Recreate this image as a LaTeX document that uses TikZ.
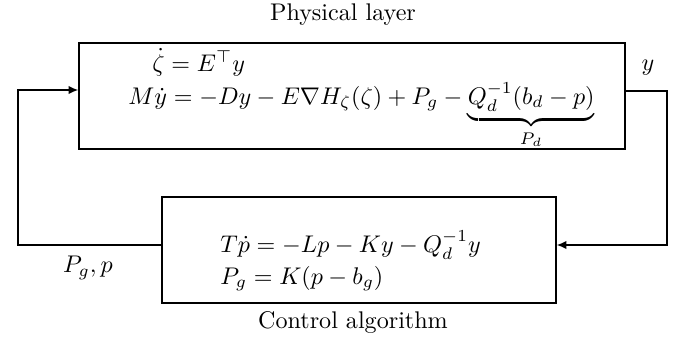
\documentclass[tikz,border=0pt]{standalone}
\usepackage{amsmath,amssymb}
\usetikzlibrary{arrows.meta}
\begin{document}
\begin{tikzpicture}[x=0.415pt,y=-0.415pt,
  blk/.style={draw,line width=0.6pt,rectangle,inner sep=0pt},
  conn/.style={line width=0.6pt,-{Latex[length=4pt,width=3.5pt]}},
  eq/.style={anchor=base west,inner sep=0pt},
  lbl/.style={inner sep=0pt}]
\useasboundingbox (0,0) rectangle (676,337);
\node[blk,minimum width=226.6pt,minimum height=44.0pt] (phys) at (352,96) {};
\node[blk,minimum width=163.5pt,minimum height=44.0pt] (ctrl) at (359,250) {};
\node[eq] (e1) at (152,71) {$\dot\zeta = E^{\top} y$};
\node[eq] (e2) at (128,104) {$M\dot y = -Dy - E\nabla H_{\zeta}(\zeta) + P_g - \underbrace{Q_d^{-1}(b_d-p)}_{P_d}$};
\node[eq] (e3) at (220,252) {$T\dot p = -Lp - Ky - Q_d^{-1}y$};
\node[eq] (e4) at (220,284) {$P_g = K(p-b_g)$};
\node[lbl] (t1) at (343,15) {Physical layer};
\node[lbl] (t2) at (353,322) {Control algorithm};
\node[lbl] (ly) at (648,68) {$y$};
\node[lbl] (lp) at (88,268) {$P_g, p$};
\coordinate (lt) at (18,90);
\coordinate (lb) at (18,245);
\coordinate (rt) at (667,91);
\coordinate (rb) at (667,245);
\draw[conn] (ctrl.west|-lb) -- (lb) -- (lt) -- (phys.west|-lt);
\draw[conn] (phys.east|-rt) -- (rt) -- (rb) -- (ctrl.east|-rb);
\end{tikzpicture}
\end{document}
